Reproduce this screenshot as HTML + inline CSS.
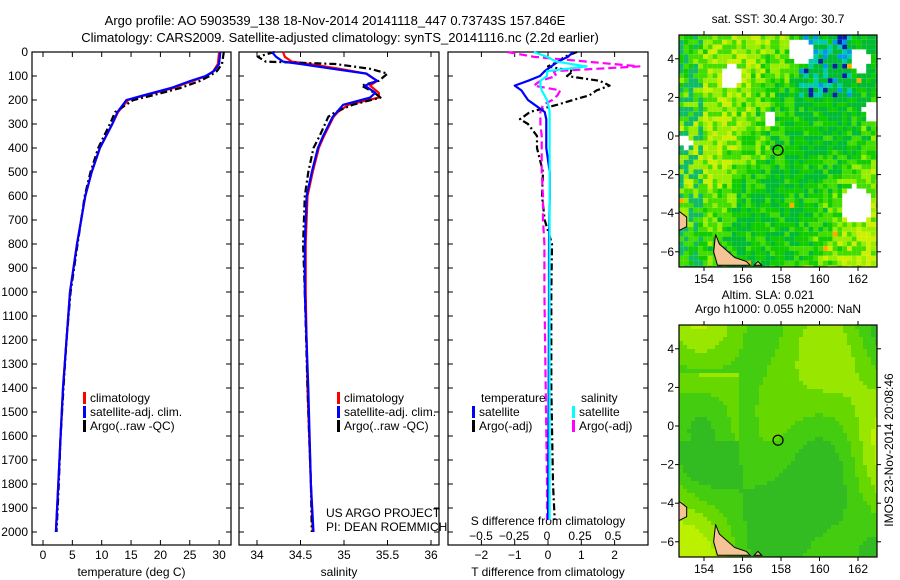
<!DOCTYPE html>
<html><head><meta charset="utf-8"><style>
html,body{margin:0;padding:0;background:#fff;}
svg{display:block;font-family:"Liberation Sans",sans-serif;}
</style></head><body>
<svg id="fig" width="900" height="580" viewBox="0 0 900 580">
<text x="335" y="25" font-size="13" text-anchor="middle">Argo profile: AO 5903539_138 18-Nov-2014 20141118_447 0.73743S 157.846E</text>
<text x="340" y="42" font-size="13" text-anchor="middle">Climatology: CARS2009. Satellite-adjusted climatology: synTS_20141116.nc (2.2d earlier)</text>
<g id="p1"></g>
<g id="p2"></g>
<g id="p3"></g>
<g id="m1"></g>
<g id="m2"></g>
<text x="0" y="0" font-size="12" text-anchor="middle" transform="translate(893,450) rotate(-90)">IMOS 23-Nov-2014 20:08:46</text>
</svg>
<script>
// ---- data ----
const tDepth = [0,50,80,100,120,150,180,200,250,300,400,500,600,800,1000,1200,1400,1600,1800,2000];
const tClim  = [30,29.8,29,27.9,25.5,22.2,17.5,14.5,12.8,11.8,9.7,8.3,7.2,5.8,4.6,4.0,3.4,3.0,2.6,2.2];
const tSat   = [30.2,30,29.1,27.7,25.2,21.8,17.2,14.2,12.7,11.8,9.7,8.3,7.2,5.8,4.6,4.0,3.4,3.0,2.6,2.2];
const tArgo  = [30.8,30.5,29.6,28.4,26.8,23.4,18.8,15.4,12.3,11.4,9.4,8.1,7.1,5.9,4.7,4.0,3.5,3.0,2.7,2.3];
const sDepth = [0,20,40,50,70,90,120,140,170,190,220,250,270,350,400,500,600,800,1000,1400,1800,2000];
const sClim  = [34.3,34.32,34.4,34.6,34.95,35.25,35.38,35.3,35.4,35.4,35.05,34.93,34.88,34.77,34.71,34.64,34.58,34.56,34.56,34.58,34.62,34.64];
const sSat   = [34.17,34.22,34.3,34.5,34.87,35.26,35.38,35.24,35.36,35.3,34.99,34.92,34.87,34.76,34.70,34.63,34.57,34.55,34.55,34.59,34.62,34.65];
const sArgo  = [34.2,34.01,34.1,34.9,35.3,35.5,35.4,35.2,35.35,35.42,35.1,34.9,34.82,34.72,34.65,34.59,34.55,34.53,34.55,34.58,34.62,34.63];
const dDepth = [0,20,40,60,80,100,120,140,160,180,200,220,250,280,300,350,400,450,500,600,700,800,1000,1400,1800,1950];
const dTsat  = [0.75,0.6,0.3,0.1,-0.1,-0.24,-0.6,-1.0,-0.8,-0.7,-0.6,-0.4,-0.1,-0.05,-0.05,-0.05,-0.05,0.0,0.05,0.05,0.04,0.03,0.03,0.02,0.01,0.0];
const dTargo = [0.87,0.5,0.3,0.0,0.75,0.57,1.55,1.85,1.46,1.25,0.75,0.27,-0.54,-0.84,-0.6,-0.33,-0.33,-0.24,-0.15,-0.18,-0.1,0.12,0.1,0.1,0.15,0.2];
const dSsat  = [-0.1,0.0,0.07,0.3,0.0,0.0,-0.05,-0.05,-0.04,-0.02,0.0,0.01,0.02,0.02,0.02,0.02,0.02,0.02,0.02,0.02,0.02,0.02,0.02,0.02,0.02,0.02];
const dSargo = [-0.3,-0.1,0.3,0.7,0.05,0.07,-0.05,-0.1,0.1,0.08,0.04,-0.03,-0.05,-0.05,-0.05,-0.04,-0.04,-0.04,-0.04,-0.03,-0.03,-0.02,-0.02,-0.01,0.0,0.0];
const depthTicks = [0,100,200,300,400,500,600,700,800,900,1000,1100,1200,1300,1400,1500,1600,1700,1800,1900,2000];
const tTicks = [0,5,10,15,20,25,30];
const sTicks = [34,34.5,35,35.5,36];
const dTTicks = [-2,-1,0,1,2];
const dSTicks = [-0.5,-0.25,0,0.25,0.5];
const lonTicks = [154,156,158,160,162];
const latTicks = [4,2,0,-2,-4,-6];
const argoLon = 157.846, argoLat = -0.737;

const NS="http://www.w3.org/2000/svg";
function mk(parent,tag,attrs,txt){const e=document.createElementNS(NS,tag);for(const k in attrs)e.setAttribute(k,attrs[k]);if(txt!==undefined)e.textContent=txt;parent.appendChild(e);return e;}
const yD = d => 52 + d*0.24;

function panel(g,x0,x1,xs,ticks,labelFmt,xlabel,showY){
  const f=mk(g,'rect',{x:x0,y:52,width:x1-x0,height:493,fill:'none',stroke:'#000','stroke-width':1.2});
  
  ticks.forEach(v=>{const x=xs(v);
    mk(g,'line',{x1:x,x2:x,y1:52,y2:57,stroke:'#000'});mk(g,'line',{x1:x,x2:x,y1:545,y2:540,stroke:'#000'});
    if(labelFmt){const t=mk(g,'text',{x:x,y:559,'font-size':12,'text-anchor':'middle'},labelFmt(v));
      }
  });
  depthTicks.forEach(d=>{const y=yD(d);
    mk(g,'line',{x1:x0,x2:x0+5,y1:y,y2:y,stroke:'#000'});mk(g,'line',{x1:x1,x2:x1-5,y1:y,y2:y,stroke:'#000'});
    if(showY){const t=mk(g,'text',{x:x0-4,y:y+4,'font-size':12,'text-anchor':'end'},String(d));
      }
  });
  if(xlabel){const t=mk(g,'text',{x:(x0+x1)/2,y:576,'font-size':12,'text-anchor':'middle'},xlabel);
    }
}
function line(g,xs,vals,depths,color,dash,name){
  const pts=vals.map((v,i)=>xs(v).toFixed(1)+','+yD(depths[i]).toFixed(1)).join(' ');
  const a={points:pts,fill:'none',stroke:color,'stroke-width':2.2,'stroke-linejoin':'round'};
  if(dash)a['stroke-dasharray']=dash;
  const p=mk(g,'polyline',a);
  
  
}
function legend(g,x,y,color,label){
  mk(g,'rect',{x:x,y:y-10,width:3,height:12,fill:color});
  const t=mk(g,'text',{x:x+7,y:y,'font-size':12},label);
  
  
}
const DASH='7,3,2,3';
const g1=document.getElementById('p1');
const xT=v=>43+v*5.87;
panel(g1,32,231,xT,tTicks,v=>String(v),'temperature (deg C)',true);
line(g1,xT,tClim,tDepth,'#f00',null,'temp-climatology-line');
line(g1,xT,tArgo,tDepth,'#000',DASH,'temp-argo-line');
line(g1,xT,tSat,tDepth,'#00f',null,'temp-satellite-line');
legend(g1,83,402,'#f00','climatology');legend(g1,83,416,'#00f','satellite-adj. clim.');legend(g1,83,430,'#000','Argo(..raw -QC)');
const g2=document.getElementById('p2');
const xS=v=>257+(v-34)*87;
panel(g2,239,439,xS,sTicks,v=>String(v),'salinity',false);
line(g2,xS,sClim,sDepth,'#f00',null,'sal-climatology-line');
line(g2,xS,sArgo,sDepth,'#000',DASH,'sal-argo-line');
line(g2,xS,sSat,sDepth,'#00f',null,'sal-satellite-line');
legend(g2,337,402,'#f00','climatology');legend(g2,337,416,'#00f','satellite-adj. clim.');legend(g2,337,430,'#000','Argo(..raw -QC)');
mk(g2,'text',{x:326,y:517,'font-size':12},'US ARGO PROJECT');
mk(g2,'text',{x:326,y:531,'font-size':12},'PI: DEAN ROEMMICH');
const g3=document.getElementById('p3');
const xDT=v=>548+v*33.3, xDS=v=>547+v*132;
panel(g3,448,648,xDT,dTTicks,null,'T difference from climatology',false);
dTTicks.forEach(v=>{const t=mk(g3,'text',{x:xDT(v),y:559,'font-size':12,'text-anchor':'middle'},String(v).replace('-','\u2212'));
  });
dSTicks.forEach(v=>{const t=mk(g3,'text',{x:xDS(v),y:540,'font-size':12,'text-anchor':'middle'},String(v).replace('-','\u2212'));
  });
mk(g3,'text',{x:548,y:525,'font-size':12,'text-anchor':'middle'},'S difference from climatology');
line(g3,xDT,dTargo,dDepth,'#000',DASH,'t-diff-argo-line');
line(g3,xDS,dSargo,dDepth,'#f0f','8,4','s-diff-argo-line');
line(g3,xDT,dTsat,dDepth,'#00f',null,'t-diff-satellite-line');
line(g3,xDS,dSsat,dDepth,'#0ff',null,'s-diff-satellite-line');
mk(g3,'text',{x:481,y:402,'font-size':12},'temperature');
mk(g3,'text',{x:581,y:402,'font-size':12},'salinity');
legend(g3,472,416,'#00f','satellite');legend(g3,472,430,'#000','Argo(-adj)');
legend(g3,572,416,'#0ff','satellite');legend(g3,572,430,'#f0f','Argo(-adj)');

function hash(a,b){let h=(a*73856093)^(b*19349663);h=(h^(h>>>13))*1274126177;h=h^(h>>>16);return ((h>>>0)%10000)/10000;}
function map(g,top,kind,title){
  const L=679,R=877,B=top+232;
  const lx=v=>704+(v-154)*19.25;
  const y0=top+101;
  const lyy=v=>y0-v*19.3;
  const cs=kind==='sst'?4.8:4;
  let i=0;
  for(let y=top;y<B;y+=cs){i++;let j=0;for(let x=L;x<R;x+=cs){j++;
    const u=(x-L)/198,w=(y-top)/232;let c;
    if(kind==='sst'){
      const r=hash(i,j);
      const base=0.5+0.25*Math.sin(u*5+w*3)+0.15*(w>0.35?0.3:-0.2)+0.45*(r-0.5);
      const gap=(Math.hypot(u-0.88,w-0.72)<0.08)||(Math.hypot(u-0.6,w-0.06)<0.06)||(Math.hypot(u-0.9,w-0.1)<0.05)||(Math.hypot(u-0.25,w-0.17)<0.05)||(Math.hypot(u-0.97,w-0.32)<0.05)||(Math.hypot(u-0.45,w-0.35)<0.03)||(Math.hypot(u-0.02,w-0.45)<0.03);
      if(gap)continue;
      if(u>0.6&&u<0.85&&w<0.25&&r>0.5) c=r>0.9?'#0022aa':(r>0.75?'#0099ee':'#00ccaa');
      else if(u<0.1&&r>0.6) c='#11bb66';
      else c=base<0.3?'#00bb33':base<0.45?'#11cc00':base<0.62?'#44dd00':base<0.78?'#99ee00':'#ccf000';
      if(r>0.996)c='#ffaa00';
    } else {
      const v=0.5+0.22*Math.sin(u*9+1)*Math.cos(w*6)+0.22*Math.sin(u*4-w*5)-0.12*Math.sin(u*3)+(u<0.3&&w>0.2&&w<0.5?0.2:0);
      c=v<0.3?'#33bb22':v<0.45?'#44cc11':v<0.6?'#66d800':v<0.75?'#99e600':'#bbf000';
    }
    mk(g,'rect',{x:x,y:y,width:Math.min(cs,R-x),height:Math.min(cs,B-y),fill:c});
  }}
  const land1=mk(g,'path',{d:`M${lx(154.6)},${lyy(-5.1)} L${lx(154.8)},${lyy(-5.6)} L${lx(155.6)},${lyy(-6.3)} L${lx(156.2)},${lyy(-6.5)} L${lx(156.4)},${lyy(-6.7)} L${lx(154.7)},${lyy(-6.7)} L${lx(154.5)},${lyy(-6)} Z`,fill:'#f5c396',stroke:'#000','stroke-width':1});
  
  mk(g,'path',{d:`M${L},${lyy(-3.9)} L${lx(153.1)},${lyy(-4.2)} L${lx(153.1)},${lyy(-4.7)} L${L},${lyy(-4.9)} Z`,fill:'#f5c396',stroke:'#000','stroke-width':1});
  mk(g,'path',{d:`M${lx(156.6)},${lyy(-6.7)} L${lx(156.8)},${lyy(-6.5)} L${lx(157.0)},${lyy(-6.7)} Z`,fill:'#f5c396',stroke:'#000'});
  const fr=mk(g,'rect',{x:L,y:top,width:R-L,height:232,fill:'none',stroke:'#000','stroke-width':1.2});
  
  lonTicks.forEach(v=>{const x=lx(v);mk(g,'line',{x1:x,x2:x,y1:top,y2:top-4,stroke:'#000'});mk(g,'line',{x1:x,x2:x,y1:B,y2:B+4,stroke:'#000'});
    const t=mk(g,'text',{x:x,y:B+16,'font-size':12,'text-anchor':'middle'},String(v));
    });
  latTicks.forEach(v=>{const y=lyy(v);mk(g,'line',{x1:L,x2:L-4,y1:y,y2:y,stroke:'#000'});mk(g,'line',{x1:R,x2:R+4,y1:y,y2:y,stroke:'#000'});
    const t=mk(g,'text',{x:L-5,y:y+4,'font-size':12,'text-anchor':'end'},String(v).replace('-','\u2212'));
    });
  const m=mk(g,'circle',{cx:lx(argoLon),cy:lyy(argoLat),r:5,fill:'none',stroke:'#000','stroke-width':1.2});
  
  title.forEach((s,k)=>{const t=mk(g,'text',{x:778-(title.length>1&&k==0?10:0),y:top-12-(title.length-1-k)*14,'font-size':12,'text-anchor':'middle'},s);
    });
}
map(document.getElementById('m1'),35,'sst',['sat. SST: 30.4  Argo: 30.7']);
map(document.getElementById('m2'),325,'sla',['Altim. SLA: 0.021','Argo h1000: 0.055 h2000: NaN']);
</script>
</body></html>
